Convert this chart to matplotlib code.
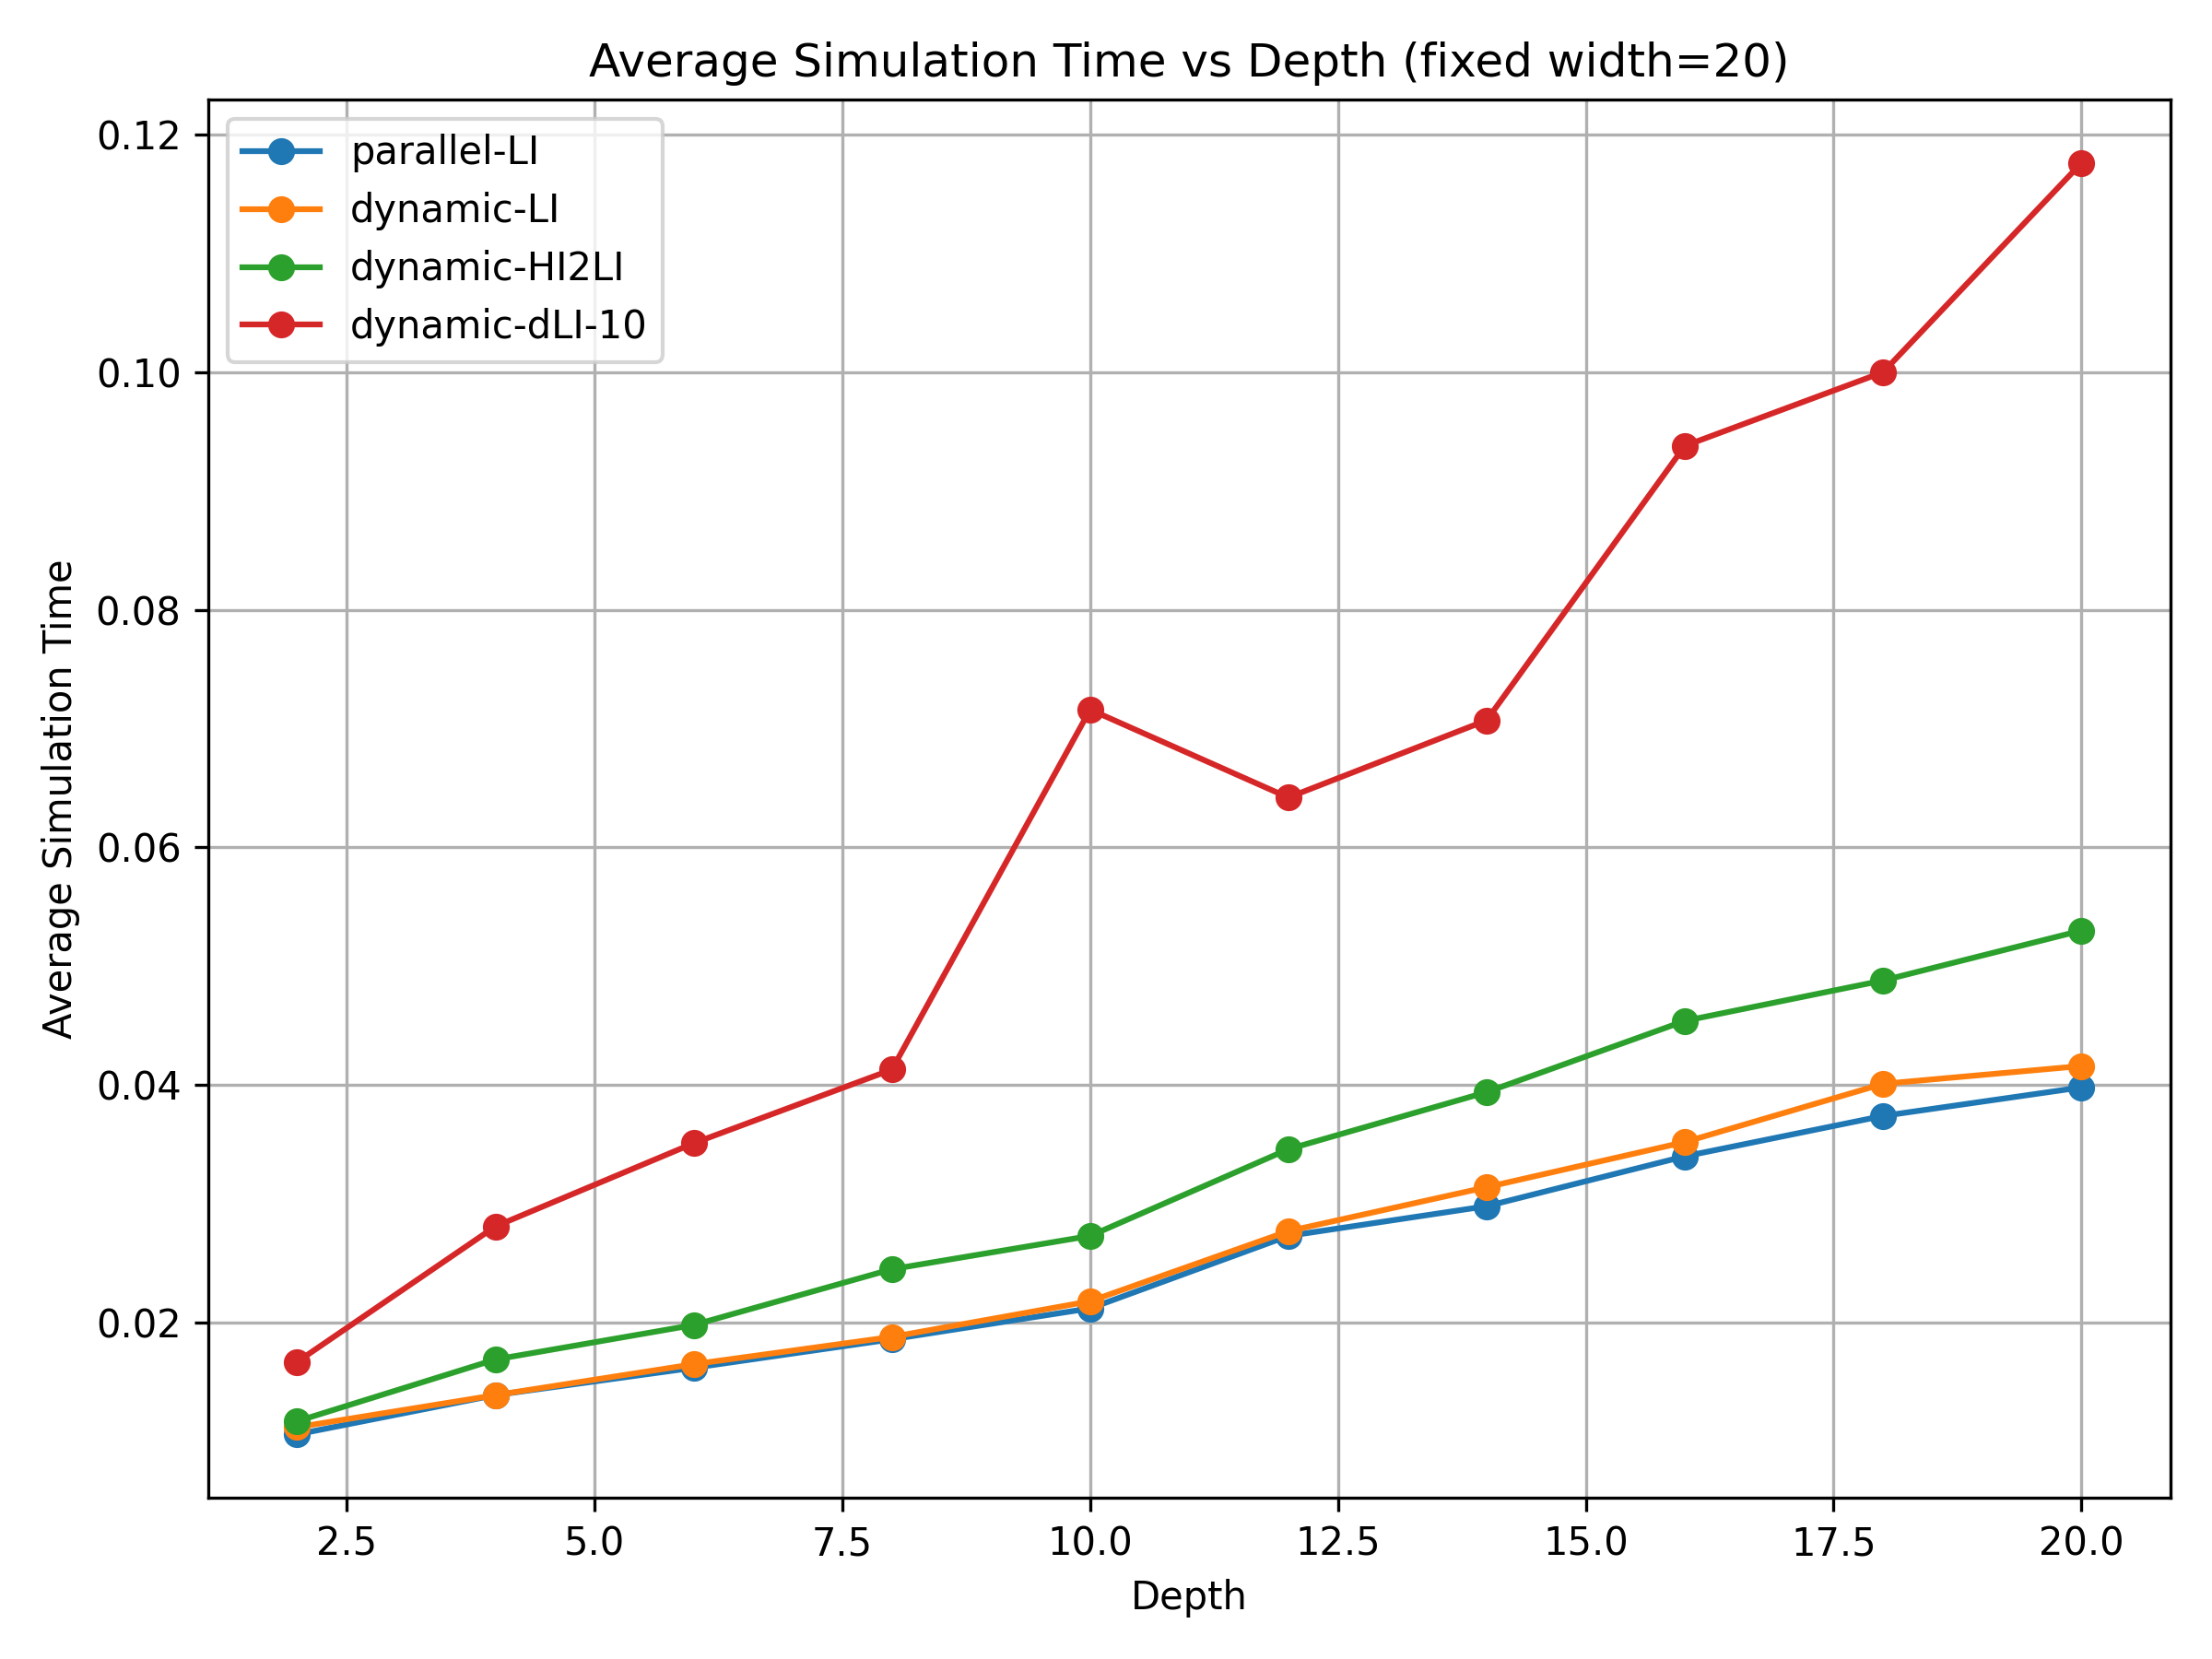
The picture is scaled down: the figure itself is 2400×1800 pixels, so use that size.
import matplotlib
matplotlib.use("Agg")
import matplotlib.pyplot as plt

depths = [2, 4, 6, 8, 10, 12, 14, 16, 18, 20]

parallel_li = [0.0106, 0.0139, 0.0162, 0.0186, 0.0212, 0.0273, 0.0298, 0.0340, 0.0374, 0.0398]
dynamic_li = [0.0112, 0.0139, 0.0165, 0.0188, 0.0218, 0.0277, 0.0314, 0.0352, 0.0401, 0.0416]
dynamic_hi2li = [0.0117, 0.0169, 0.0198, 0.0245, 0.0273, 0.0346, 0.0394, 0.0454, 0.0488, 0.0530]
dynamic_dli10 = [0.0167, 0.0281, 0.0351, 0.0413, 0.0716, 0.0642, 0.0707, 0.0938, 0.1000, 0.1176]

series = [
    ("parallel-LI", parallel_li),
    ("dynamic-LI", dynamic_li),
    ("dynamic-HI2LI", dynamic_hi2li),
    ("dynamic-dLI-10", dynamic_dli10),
]

fig, ax = plt.subplots(figsize=(8, 6), dpi=300)

for name, vals in series:
    ax.plot(depths, vals, marker='o', label=name)

ax.set_title("Average Simulation Time vs Depth (fixed width=20)")
ax.set_xlabel("Depth")
ax.set_ylabel("Average Simulation Time")
ax.grid(True)
ax.legend(loc='upper left')

plt.tight_layout()
plt.savefig("out.png")
